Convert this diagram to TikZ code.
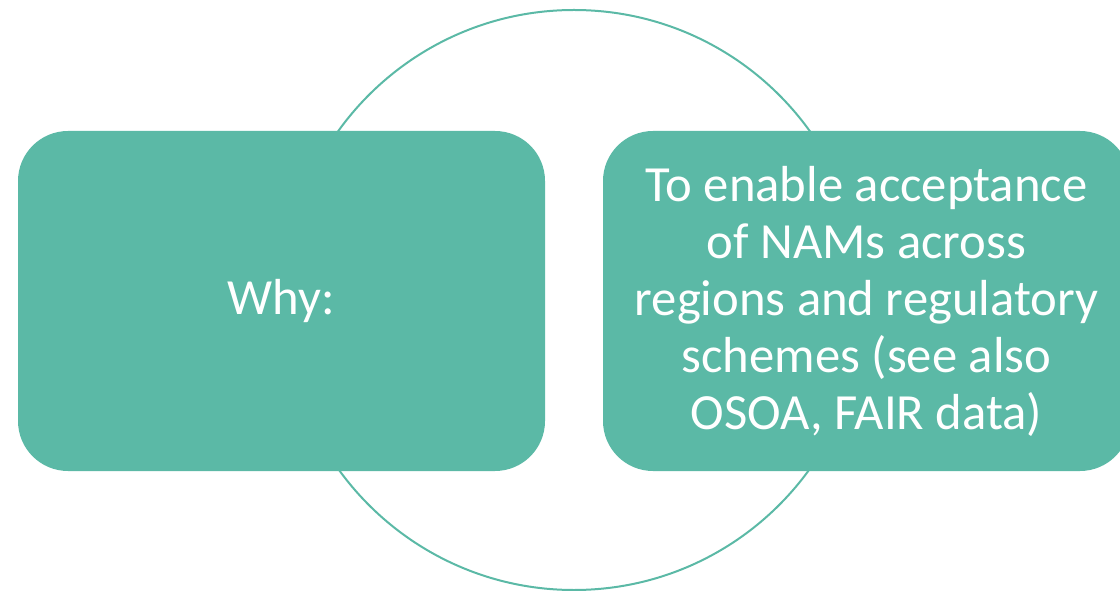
\documentclass[tikz,border=0pt]{standalone}
\usepackage{fontspec}
\setmainfont{Carlito}
\definecolor{tealbox}{RGB}{91,185,166}
\tikzset{every picture/.style={line width=0.75pt}}
\tikzset{
  roundbox/.style={fill=tealbox, draw=none, rounded corners=37.5pt, minimum width=395.25pt, minimum height=255pt, inner sep=0pt, align=center, text=white, font=\fontsize{38}{42.75}\selectfont},
}
\begin{document}
\begin{tikzpicture}[x=0.75pt,y=0.75pt,yscale=-1,xscale=1]
%set diagram size 1120 x 591
\useasboundingbox (0,0) rectangle (1120,591);
\clip (0,0) rectangle (1120,591);

%Shape: Circle
\draw [color=tealbox, line width=1.5pt] (574,300) circle [radius=290];

%Rounded Rect
\node [roundbox] (why) at (281.5,301) {Why:};
%Rounded Rect
\node [roundbox] (aim) at (866.5,301) {To enable acceptance\\of NAMs across\\regions and regulatory\\schemes (see also\\OSOA, FAIR data)};

\end{tikzpicture}
\end{document}
